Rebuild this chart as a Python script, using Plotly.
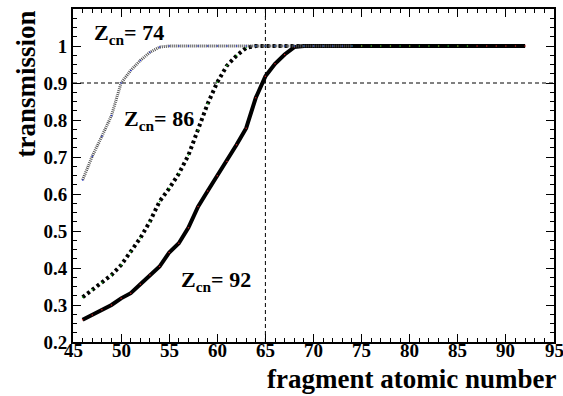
import plotly.graph_objects as go

# Fragment atomic number grid for each compound nucleus
z_frag_74 = list(range(46, 75))
z_frag_86 = list(range(46, 87))
z_frag_92 = list(range(46, 93))

# Transmission values
trans_74 = [0.638, 0.702, 0.756, 0.812, 0.900, 0.934, 0.961, 0.983, 0.997] + [1.0] * 20
trans_86 = [0.321, 0.341, 0.361, 0.381, 0.408, 0.444, 0.481, 0.526, 0.580, 0.615,
            0.655, 0.705, 0.772, 0.844, 0.902, 0.947, 0.974, 0.995] + [1.0] * 23
trans_92 = [0.260, 0.273, 0.287, 0.300, 0.318, 0.332, 0.356, 0.381, 0.404, 0.442,
            0.467, 0.509, 0.566, 0.608, 0.649, 0.688, 0.733, 0.778, 0.860, 0.918,
            0.952, 0.977, 0.997] + [1.0] * 24

labels = ["Z<sub>cn</sub>= 74", "Z<sub>cn</sub>= 86", "Z<sub>cn</sub>= 92"]
label_pos = [(46.95, 1.033), (50.05, 0.800), (56.05, 0.366)]

x_ticks = [45, 50, 55, 60, 65, 70, 75, 80, 85, 90, 95]
y_ticks = [0.2, 0.3, 0.4, 0.5, 0.6, 0.7, 0.8, 0.9, 1.0, 1.1]
y_tick_text = ["0.2", "0.3", "0.4", "0.5", "0.6", "0.7", "0.8", "0.9", "1", "1.1"]

ref_x = 65
ref_y = 0.9

FONT = "Liberation Serif, Times New Roman, serif"
tick_font = dict(family=FONT, size=19, color="black", weight="bold")

fig = go.Figure()

# Reference cross-hairs
fig.add_shape(type="line", x0=ref_x, x1=ref_x, y0=0.2, y1=1.1,
              line=dict(color="black", width=1, dash="4px,3px"), layer="below")
fig.add_shape(type="line", x0=45, x1=95, y0=ref_y, y1=ref_y,
              line=dict(color="black", width=1, dash="4px,3px"), layer="below")

fig.add_trace(go.Scatter(
    x=z_frag_92, y=trans_92, mode="lines+markers",
    line=dict(color="black", width=4),
    marker=dict(color="#d02020", size=1.5),
))
fig.add_trace(go.Scatter(
    x=z_frag_86, y=trans_86, mode="lines+markers",
    line=dict(color="black", width=4, dash="3px,3px"),
    marker=dict(color="#20c020", size=1.5),
))
fig.add_trace(go.Scatter(
    x=z_frag_74, y=trans_74, mode="lines+markers",
    line=dict(color="#555555", width=3, dash="1px,1px"),
    marker=dict(color="#2030d0", size=1.5),
))

for txt, (lx, ly) in zip(labels, label_pos):
    fig.add_annotation(x=lx, y=ly, text=txt, showarrow=False,
                       xanchor="left", yanchor="middle",
                       font=dict(family=FONT, size=22, color="black", weight="bold"))

# x tick labels sit tight under the axis line
for xv in x_ticks:
    fig.add_annotation(x=xv, y=0, xref="x", yref="paper", yshift=-8,
                       text=str(xv), showarrow=False,
                       xanchor="center", yanchor="middle", font=tick_font)

# Axis titles
fig.add_annotation(x=1.0, y=0, xref="paper", yref="paper", yshift=-37, xshift=4,
                   text="fragment atomic number", showarrow=False,
                   xanchor="right", yanchor="middle",
                   font=dict(family=FONT, size=27, color="black", weight="bold"))
fig.add_annotation(x=0, y=1.0, xref="paper", yref="paper", xshift=-48, yshift=0,
                   text="transmission", showarrow=False, textangle=-90,
                   xanchor="center", yanchor="top",
                   font=dict(family=FONT, size=27, color="black", weight="bold"))

axis_common = dict(
    showline=True, linecolor="black", linewidth=2, mirror="ticks",
    ticks="inside", ticklen=8, tickwidth=1.2, tickcolor="black",
    showgrid=False, zeroline=False,
    tickfont=tick_font,
)

fig.update_xaxes(range=[45, 95], tickmode="array", tickvals=x_ticks,
                 showticklabels=False,
                 minor=dict(ticks="inside", ticklen=4, dtick=1, tickcolor="black", tickwidth=1),
                 **axis_common)
fig.update_yaxes(range=[0.2, 1.1], tickmode="array", tickvals=y_ticks, ticktext=y_tick_text,
                 minor=dict(ticks="inside", ticklen=4, dtick=0.025, tickcolor="black", tickwidth=1),
                 **axis_common)

fig.update_layout(
    width=563, height=396,
    margin=dict(l=73, r=7, t=9, b=54),
    paper_bgcolor="white", plot_bgcolor="white",
    showlegend=False,
)

fig.write_html("out.html")
